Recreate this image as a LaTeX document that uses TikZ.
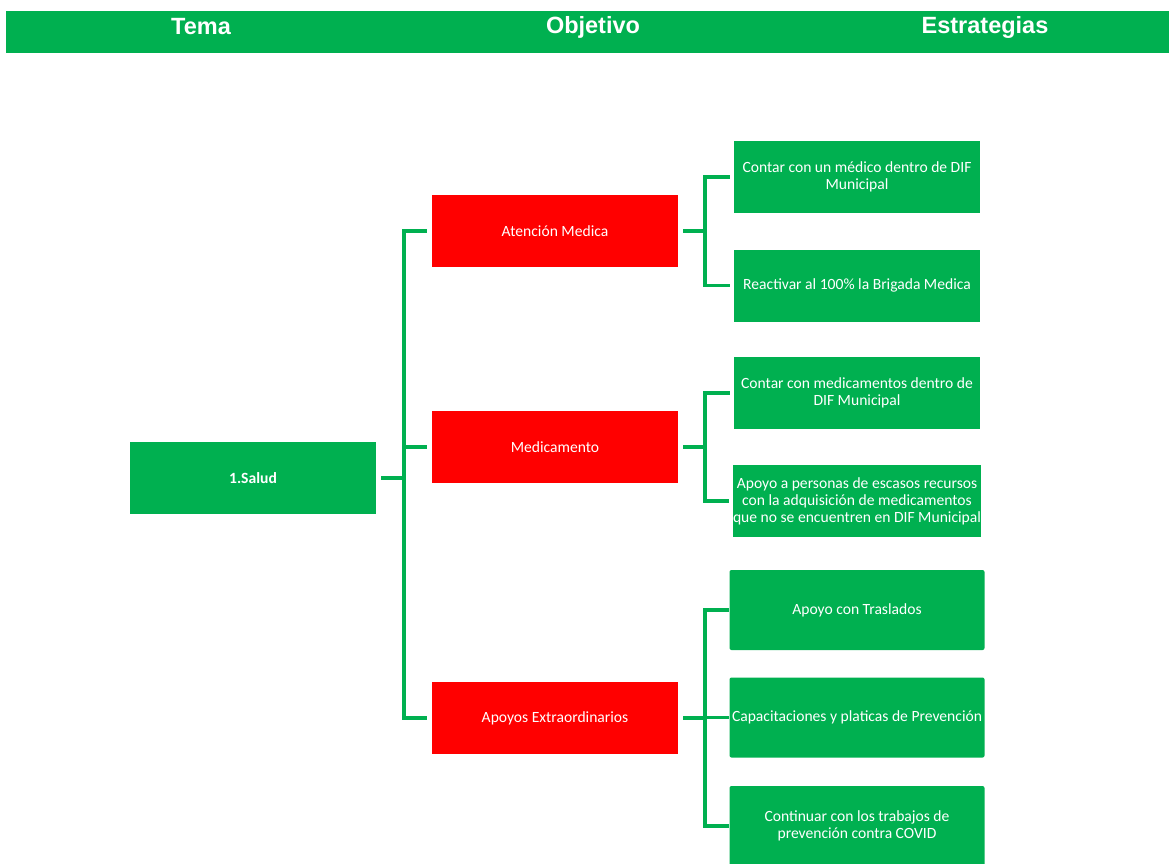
\documentclass[tikz,border=0pt]{standalone}
\usepackage{fontspec}
\setmainfont{Carlito}
\newfontfamily\headfont{Liberation Sans}
\definecolor{verde}{HTML}{00B050}
\definecolor{rojo}{HTML}{FF0000}

\begin{document}
\begin{tikzpicture}[x=1pt,y=-1pt,
  caja/.style={fill=verde,text=white,minimum width=246pt,minimum height=72pt,
    inner sep=0pt,align=center,font=\fontsize{15.6}{17}\selectfont},
  objetivo/.style={caja,fill=rojo},
  ancha/.style={caja,minimum width=255pt,minimum height=80pt,rounded corners=2pt},
  titulo/.style={text=white,font=\headfont\bfseries\fontsize{23.5}{28}\selectfont},
  enlace/.style={draw=verde,line width=3.5pt}]
  \useasboundingbox (0,0) rectangle (1169,863);
  % Encabezado
  \fill[verde] (6,11) rectangle (1169,53);
  \node[titulo] (tema) at (201,27) {Tema};
  \node[titulo] (obj) at (593,27) {Objetivo};
  \node[titulo] (est) at (985,27) {Estrategias};
  % Tema
  \node[caja,font=\fontsize{15.6}{17}\selectfont\bfseries] (sal) at (253,478) {1.Salud};
  % Objetivos
  \node[objetivo] (aten) at (555,231) {Atención Medica};
  \node[objetivo] (medi) at (555,447) {Medicamento};
  \node[objetivo] (apoy) at (555,718) {Apoyos Extraordinarios};
  % Estrategias
  \node[caja] (e1) at (857,177) {Contar con un médico dentro de DIF\\Municipal};
  \node[caja] (e2) at (857,285.5) {Reactivar al 100\% la Brigada Medica};
  \node[caja] (e3) at (857,393) {Contar con medicamentos dentro de\\DIF Municipal};
  \node[caja] (e4) at (857,501) {Apoyo a personas de escasos recursos\\con la adquisición de medicamentos\\que no se encuentren en DIF Municipal};
  \node[ancha] (e5) at (857,610) {Apoyo con Traslados};
  \node[ancha] (e6) at (857,717.5) {Capacitaciones y platicas de Prevención};
  \node[ancha] (e7) at (857,826) {Continuar con los trabajos de\\prevención contra COVID};
  % Lineas
  \coordinate (j0) at (404,478);
  \coordinate (j1) at (705,231);
  \coordinate (j2) at (705,447);
  \coordinate (j3) at (705,718);
  \draw[enlace] ([xshift=5pt]sal.east) -- (j0);
  \foreach \o in {aten,medi,apoy}
    \draw[enlace] (j0) |- ([xshift=-5pt]\o.west);
  \draw[enlace] ([xshift=5pt]aten.east) -- (j1);
  \draw[enlace] ([xshift=5pt]medi.east) -- (j2);
  \draw[enlace] ([xshift=5pt]apoy.east) -- (j3);
  \foreach \e in {e1,e2}
    \draw[enlace] (j1) |- ([xshift=-4pt]\e.west);
  \foreach \e in {e3,e4}
    \draw[enlace] (j2) |- ([xshift=-4pt]\e.west);
  \foreach \e in {e5,e6,e7}
    \draw[enlace] (j3) |- (\e.west);
\end{tikzpicture}
\end{document}
